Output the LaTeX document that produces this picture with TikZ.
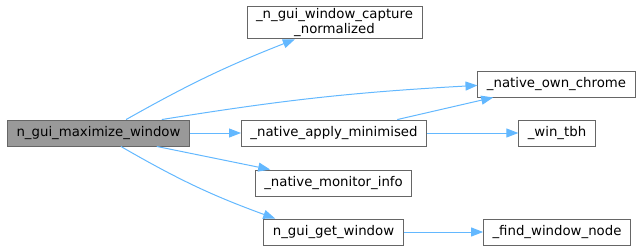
\documentclass[tikz,border=0pt]{standalone}
\usepackage{fontspec}
\setmainfont{DejaVu Sans}
\usetikzlibrary{arrows.meta}
\definecolor{edgeblue}{HTML}{63B8FF}
\definecolor{boxline}{HTML}{666666}
\definecolor{mainfill}{HTML}{999999}
\tikzset{
  fn/.style={draw=boxline,fill=white,line width=0.9pt,minimum height=26pt,inner xsep=9pt,inner ysep=2pt,
    font=\fontsize{13.3}{15.5}\selectfont,align=center},
  calls/.style={color=edgeblue,line width=1pt,-{Stealth[length=12pt,width=9pt,inset=0pt]}}
}
\begin{document}
\begin{tikzpicture}[x=1pt,y=-1pt]
 \useasboundingbox (0,0) rectangle (643,250);
 \node[fn,fill=mainfill] (main) at (98.5,133) {n\_gui\_maximize\_window};
 \node[fn] (capture) at (334.5,22.5) {\_n\_gui\_window\_capture\\\_normalized};
 \node[fn] (chrome)  at (556.5,84)  {\_native\_own\_chrome};
 \node[fn] (apply)   at (334,133)   {\_native\_apply\_minimised};
 \node[fn] (tbh)     at (557,133)   {\_win\_tbh};
 \node[fn] (monitor) at (333.5,183) {\_native\_monitor\_info};
 \node[fn] (getwin)  at (333.5,232) {n\_gui\_get\_window};
 \node[fn] (findwin) at (557,232)   {\_find\_window\_node};
  \path[calls]
    (main.26)  edge[bend left=4]  (capture.203)
    (main.12)  edge[bend left=3]  (chrome.181)
    (main)     edge               (apply)
    (main.-13) edge               (monitor.168)
    (main.-31) edge[bend right=5] (getwin.167)
    (apply.12) edge               (chrome.192)
    (apply)    edge               (tbh)
    (getwin)   edge               (findwin);
\end{tikzpicture}
\end{document}
